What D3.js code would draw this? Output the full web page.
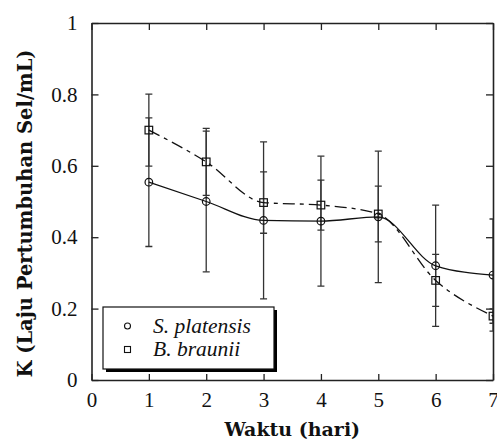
<!DOCTYPE html>
<html>
<head>
<meta charset="utf-8">
<script src="https://cdn.jsdelivr.net/npm/d3@7"></script>
<style>
  body { margin: 0; background: #fff; }
  svg { display: block; }
  .serif { font-family: 'Liberation Serif', 'Times New Roman', serif; }
  .title { font-family: 'DejaVu Serif', 'Liberation Serif', serif; font-weight: bold; }
</style>
</head>
<body>
<div id="chart"></div>
<script>
// data
const days = [1, 2, 3, 4, 5, 6, 7];
const platensis = [0.554, 0.500, 0.447, 0.445, 0.457, 0.320, 0.294];
const platensisErr = [0.180, 0.197, 0.220, 0.182, 0.184, 0.170, 0.157];
const braunii = [0.700, 0.611, 0.497, 0.490, 0.465, 0.279, 0.179];
const brauniiErr = [0.101, 0.094, 0.086, 0.070, 0.078, 0.073, 0.020];
const xTicks = [0, 1, 2, 3, 4, 5, 6, 7];
const yTicks = [0, 0.2, 0.4, 0.6, 0.8, 1];

const width = 497, height = 442;
const margin = { top: 23, right: 4, bottom: 62, left: 91.5 };

const svg = d3.select('#chart').append('svg')
    .attr('width', width)
    .attr('height', height);

const x = d3.scaleLinear().domain([0, 7]).range([margin.left, width - margin.right]);
const y = d3.scaleLinear().domain([0, 1]).range([height - margin.bottom, margin.top]);

svg.append('clipPath').attr('id', 'plot-clip')
    .append('rect')
    .attr('x', x(0)).attr('y', y(1))
    .attr('width', x(7) - x(0)).attr('height', y(0) - y(1));

// axes, ticks pointing inward on all four sides
const xAxis = svg.append('g')
    .attr('transform', `translate(0,${y(0)})`)
    .call(d3.axisBottom(x).tickValues(xTicks).tickSizeInner(-6).tickSizeOuter(0).tickPadding(12).tickFormat(d3.format('d')));
const xTop = svg.append('g')
    .attr('transform', `translate(0,${y(1)})`)
    .call(d3.axisTop(x).tickValues(xTicks).tickSizeInner(-7).tickSizeOuter(0).tickFormat(''));
const yAxis = svg.append('g')
    .attr('transform', `translate(${x(0)},0)`)
    .call(d3.axisLeft(y).tickValues(yTicks).tickSizeInner(-7).tickSizeOuter(0).tickPadding(14).tickFormat(d => d === 0 || d === 1 ? d3.format('d')(d) : d3.format('.1f')(d)));
const yRight = svg.append('g')
    .attr('transform', `translate(${x(7)},0)`)
    .call(d3.axisRight(y).tickValues(yTicks).tickSizeInner(-7).tickSizeOuter(0).tickFormat(''));

[xAxis, xTop, yAxis, yRight].forEach(g => {
    g.attr('font-family', null).attr('font-size', null);
    g.select('.domain').attr('stroke', '#222').attr('stroke-width', 1.6);
    g.selectAll('.tick line').attr('stroke', '#222').attr('stroke-width', 1.3);
    g.selectAll('.tick text')
        .attr('class', 'serif')
        .style('font-size', '21px')
        .attr('fill', '#111');
});

// axis titles
svg.append('text')
    .attr('class', 'title')
    .attr('x', (x(0) + x(7)) / 2)
    .attr('y', 436)
    .attr('text-anchor', 'middle')
    .style('font-size', '19px')
    .attr('fill', '#111')
    .text('Waktu (hari)');

svg.append('text')
    .attr('class', 'title')
    .attr('transform', `translate(32,${(y(0) + 47) / 2}) rotate(-90)`)
    .attr('text-anchor', 'middle')
    .style('font-size', '19.5px')
    .attr('fill', '#111')
    .text('K (Laju Pertumbuhan Sel/mL)');

const plot = svg.append('g').attr('clip-path', 'url(#plot-clip)');

// error bars
function errorBars(vals, errs, color) {
    const g = plot.append('g').attr('stroke', color).attr('stroke-width', 1.3);
    days.forEach((d, i) => {
        const top = y(vals[i] + errs[i]), bot = y(vals[i] - errs[i]);
        g.append('line').attr('x1', x(d)).attr('x2', x(d)).attr('y1', top).attr('y2', bot);
        g.append('line').attr('x1', x(d) - 3.5).attr('x2', x(d) + 3.5).attr('y1', top).attr('y2', top);
        g.append('line').attr('x1', x(d) - 3.5).attr('x2', x(d) + 3.5).attr('y1', bot).attr('y2', bot);
    });
}
errorBars(platensis, platensisErr, '#333');
errorBars(braunii, brauniiErr, '#333');

// lines
const line = d3.line().x((d, i) => x(days[i])).y(d => y(d)).curve(d3.curveMonotoneX);

plot.append('path')
    .attr('d', line(platensis))
    .attr('fill', 'none')
    .attr('stroke', '#111')
    .attr('stroke-width', 1.3);

plot.append('path')
    .attr('d', line(braunii))
    .attr('fill', 'none')
    .attr('stroke', '#111')
    .attr('stroke-width', 1.3)
    .attr('stroke-dasharray', '12,5,4,5');

// markers
plot.selectAll('circle.pt')
    .data(platensis)
    .join('circle')
    .attr('class', 'pt')
    .attr('cx', (d, i) => x(days[i]))
    .attr('cy', d => y(d))
    .attr('r', 3.8)
    .attr('fill', 'none')
    .attr('stroke', '#111')
    .attr('stroke-width', 1.2);

plot.selectAll('rect.pt')
    .data(braunii)
    .join('rect')
    .attr('class', 'pt')
    .attr('x', (d, i) => x(days[i]) - 3.8)
    .attr('y', d => y(d) - 3.8)
    .attr('width', 7.6)
    .attr('height', 7.6)
    .attr('fill', 'none')
    .attr('stroke', '#111')
    .attr('stroke-width', 1.2);

// legend box with drop shadow
const legend = svg.append('g').attr('transform', 'translate(103,307)');
legend.append('rect')
    .attr('x', 3).attr('y', 3)
    .attr('width', 171).attr('height', 62)
    .attr('fill', '#000');
legend.append('rect')
    .attr('x', 0).attr('y', 0)
    .attr('width', 171).attr('height', 62)
    .attr('fill', '#fff')
    .attr('stroke', '#111')
    .attr('stroke-width', 1.2);

const items = [
    { name: 'S. platensis', shape: 'circle' },
    { name: 'B. braunii', shape: 'square' }
];
items.forEach((it, i) => {
    const cy = 19 + i * 23.5;
    if (it.shape === 'circle') {
        legend.append('circle').attr('cx', 24.5).attr('cy', cy)
            .attr('r', 3).attr('fill', 'none').attr('stroke', '#111').attr('stroke-width', 1.1);
    } else {
        legend.append('rect').attr('x', 21.5).attr('y', cy - 3).attr('width', 6).attr('height', 6)
            .attr('fill', 'none').attr('stroke', '#111').attr('stroke-width', 1.1);
    }
    legend.append('text')
        .attr('class', 'serif')
        .attr('x', 50).attr('y', cy + 6.5)
        .style('font-style', 'italic')
        .style('font-size', '21.5px')
        .attr('fill', '#111')
        .text(it.name);
});
</script>
</body>
</html>
